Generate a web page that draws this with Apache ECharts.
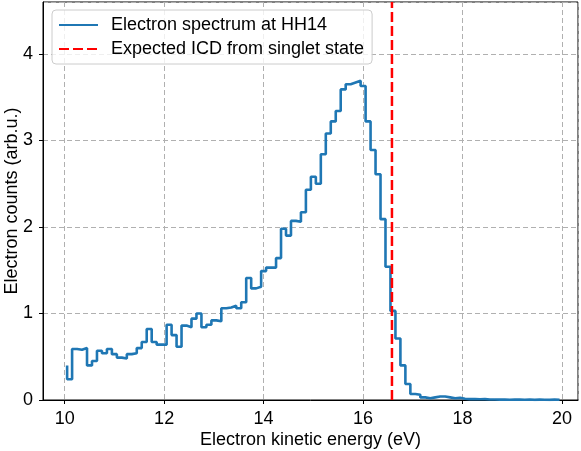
<!DOCTYPE html>
<html>
<head>
<meta charset="utf-8">
<script src="https://cdn.jsdelivr.net/npm/echarts@6/dist/echarts.min.js"></script>
<style>
  html, body { margin: 0; padding: 0; background: #fff; }
  #chart { width: 581px; height: 451px; }
</style>
</head>
<body>
<div id="chart"></div>
<script>
// electron kinetic energy (eV), right edge of each 0.1 eV bin
const energies = [
  10.05, 10.15, 10.25, 10.35, 10.45, 10.55, 10.65, 10.75, 10.85, 10.95,
  11.05, 11.15, 11.25, 11.35, 11.45, 11.55, 11.65, 11.75, 11.85, 11.95,
  12.05, 12.15, 12.25, 12.35, 12.45, 12.55, 12.65, 12.75, 12.85, 12.95,
  13.05, 13.15, 13.25, 13.35, 13.45, 13.55, 13.65, 13.75, 13.85, 13.95,
  14.05, 14.15, 14.25, 14.35, 14.45, 14.55, 14.65, 14.75, 14.85, 14.95,
  15.05, 15.15, 15.25, 15.35, 15.45, 15.55, 15.65, 15.75, 15.85, 15.95,
  16.05, 16.15, 16.25, 16.35, 16.45, 16.55, 16.65, 16.75, 16.85, 16.95,
  17.05, 17.15, 17.25, 17.35, 17.45, 17.55, 17.65, 17.75, 17.85, 17.95,
  18.05, 18.15, 18.25, 18.35, 18.45, 18.55, 18.65, 18.75, 18.85, 18.95,
  19.05, 19.15, 19.25, 19.35, 19.45, 19.55, 19.65, 19.75, 19.85, 19.95
]
// electron counts (arb.u.)
const counts = [
  0.40, 0.24, 0.59, 0.58, 0.60, 0.40, 0.45, 0.57, 0.54, 0.59,
  0.53, 0.49, 0.48, 0.53, 0.54, 0.60, 0.67, 0.82, 0.67, 0.64,
  0.64, 0.87, 0.75, 0.615, 0.86, 0.84, 0.94, 1.00, 0.84, 0.87,
  0.92, 0.91, 1.06, 1.07, 1.09, 1.06, 1.13, 1.41, 1.29, 1.31,
  1.49, 1.53, 1.53, 1.64, 1.98, 1.90, 2.07, 2.06, 2.17, 2.43,
  2.58, 2.50, 2.84, 3.08, 3.22, 3.34, 3.59, 3.65, 3.67, 3.69,
  3.63, 3.22, 2.89, 2.61, 2.09, 1.54, 1.03, 0.71, 0.40, 0.185,
  0.07, 0.06, 0.03, 0.02, 0.03, 0.04, 0.04, 0.03, 0.02, 0.025,
  0.015, 0.01, 0.012, 0.008, 0.01, 0.006, 0.005, 0.004, 0.006, 0.003,
  0.005, 0.004, 0.003, 0.005, 0.002, 0.004, 0.003, 0.002, 0.004, 0.003
]
const icdEnergy = 16.58
const yRange = [0, 4.6]
const xRange = [9.565, 20.32]

const font = 'Liberation Sans'
const chart = echarts.init(document.getElementById('chart'))

const splitLine = {
  show: true,
  lineStyle: { color: '#b0b0b0', width: 1, type: [5, 3] }
}

chart.setOption({
  animation: false,
  textStyle: { fontFamily: font },
  grid: {
    left: 43, right: 3, top: 2, bottom: 51,
    containLabel: false,
    outerBoundsMode: 'none',
    show: true, borderColor: '#000', borderWidth: 1
  },
  legend: {
    orient: 'vertical',
    left: 52, top: 10,
    padding: [6, 8, 6, 6],
    itemWidth: 39, itemHeight: 18, itemGap: 6,
    borderColor: '#cccccc', borderWidth: 1, borderRadius: 4,
    backgroundColor: 'rgba(255,255,255,0.8)',
    itemStyle: { opacity: 0 },
    textStyle: { fontSize: 18, color: '#000', fontFamily: font, padding: [0, 0, 0, 8] },
    data: ['Electron spectrum at HH14', 'Expected ICD from singlet state']
  },
  xAxis: {
    type: 'value',
    min: xRange[0], max: xRange[1],
    splitNumber: 5,
    name: 'Electron kinetic energy (eV)',
    nameLocation: 'middle', nameGap: 31,
    nameMoveOverlap: false,
    nameTextStyle: { fontSize: 18, color: '#000', fontFamily: font },
    axisLine: { show: true, lineStyle: { color: '#000', width: 1 } },
    axisTick: { show: true, inside: false, length: 4, lineStyle: { color: '#000' } },
    axisLabel: { fontSize: 18, color: '#000', margin: 10, showMinLabel: false, showMaxLabel: false },
    splitLine: splitLine
  },
  yAxis: {
    type: 'value',
    min: yRange[0], max: yRange[1], interval: 1,
    name: 'Electron counts (arb.u.)',
    nameLocation: 'middle', nameGap: 22,
    nameMoveOverlap: false,
    nameTextStyle: { fontSize: 18, color: '#000', fontFamily: font },
    axisLine: { show: true, lineStyle: { color: '#000', width: 1 } },
    axisTick: { show: true, inside: false, length: 4, lineStyle: { color: '#000' } },
    axisLabel: { fontSize: 18, color: '#000', margin: 10, showMaxLabel: false },
    splitLine: splitLine
  },
  series: [
    {
      name: 'Electron spectrum at HH14',
      type: 'line',
      step: 'start',
      symbol: 'none',
      data: energies.map((e, i) => [e, counts[i]]),
      lineStyle: { color: '#1f77b4', width: 2.6 },
      itemStyle: { color: '#1f77b4' }
    },
    {
      name: 'Expected ICD from singlet state',
      type: 'line',
      symbol: 'none',
      data: [[icdEnergy, yRange[0]], [icdEnergy, yRange[1]]],
      lineStyle: { color: '#ff0000', width: 2.5, type: [10, 4] },
      itemStyle: { color: '#ff0000' }
    }
  ]
})
</script>
</body>
</html>
